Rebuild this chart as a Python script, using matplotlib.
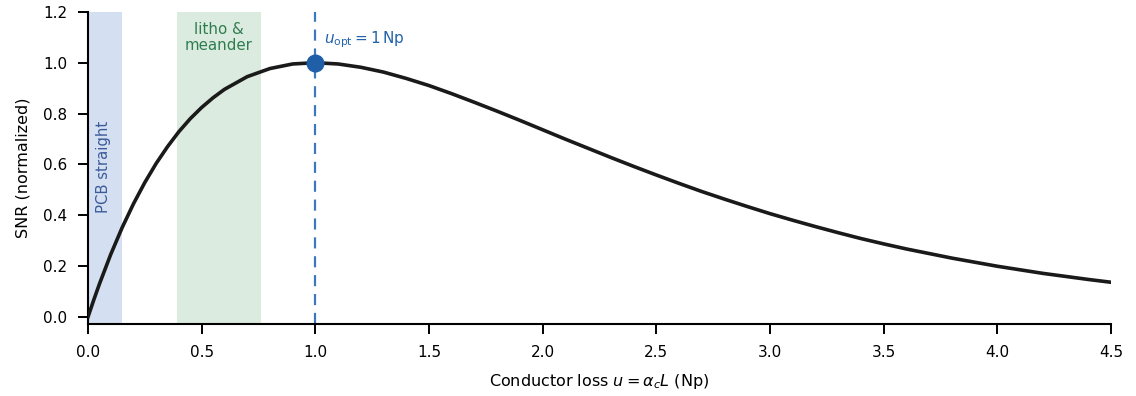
import numpy as np
import matplotlib.pyplot as plt

plt.rcParams["font.family"] = ["DejaVu Sans"]

# conductor loss u (Np) and normalized SNR
u = [0.0, 0.025, 0.05, 0.1, 0.15, 0.2, 0.25, 0.3, 0.35, 0.4, 0.45, 0.5,
     0.55, 0.6, 0.7, 0.8, 0.9, 1.0, 1.1, 1.2, 1.3, 1.4, 1.5, 1.6, 1.7, 1.8,
     1.9, 2.0, 2.1, 2.2, 2.3, 2.4, 2.5, 2.6, 2.7, 2.8, 2.9, 3.0, 3.1, 3.2,
     3.3, 3.4, 3.5, 3.6, 3.7, 3.8, 3.9, 4.0, 4.1, 4.2, 4.3, 4.4, 4.5]
snr = [0.0, 0.066, 0.129, 0.246, 0.351, 0.445, 0.529, 0.604, 0.670, 0.729,
       0.780, 0.824, 0.862, 0.895, 0.945, 0.977, 0.995, 1.0, 0.995, 0.982,
       0.963, 0.938, 0.910, 0.878, 0.844, 0.809, 0.773, 0.736, 0.699, 0.663,
       0.627, 0.592, 0.558, 0.525, 0.493, 0.463, 0.434, 0.406, 0.380, 0.355,
       0.331, 0.308, 0.287, 0.267, 0.249, 0.231, 0.215, 0.199, 0.185, 0.171,
       0.159, 0.147, 0.136]

pcb_band = (0.0, 0.15)
litho_band = (0.39, 0.76)
u_opt = 1.0

fig = plt.figure(figsize=(11.36, 3.96), dpi=100)
ax = fig.add_axes([0.0775, 0.182, 0.9005, 0.788])

ax.axvspan(*pcb_band, color="#d4e0f1", lw=0, zorder=0)
ax.axvspan(*litho_band, color="#dcebe0", lw=0, zorder=0)

ax.plot(u, snr, color="#1a1a1a", lw=2.6, zorder=3, solid_joinstyle="round")
ax.axvline(u_opt, color="#3b78c0", lw=1.6, ls=(0, (5, 3.5)), zorder=2)
ax.plot([u_opt], [1.0], "o", color="#1f5fa8", ms=12, zorder=4)

ax.text(u_opt + 0.04, 1.09, r"$u_\mathrm{opt} = 1\,\mathrm{Np}$",
        color="#2363aa", fontsize=11, va="center", ha="left")
ax.text(0.066, 0.59, "PCB straight", rotation=90, color="#3b5a99",
        fontsize=10.7, ha="center", va="center")
ax.text(0.575, 1.10, "litho &\nmeander", color="#2e7d4f", fontsize=10.8,
        ha="center", va="center", linespacing=1.05)

ax.set_xlim(0, 4.5)
ax.set_ylim(-0.028, 1.2)
ax.set_xticks(np.arange(0, 4.51, 0.5))
ax.set_yticks(np.arange(0, 1.21, 0.2))
ax.xaxis.set_major_formatter(plt.FormatStrFormatter("%.1f"))
ax.yaxis.set_major_formatter(plt.FormatStrFormatter("%.1f"))

ax.set_xlabel(r"Conductor loss $u = \alpha_c L$ (Np)", fontsize=11.5,
              labelpad=9)
ax.set_ylabel("SNR (normalized)", fontsize=11.5, labelpad=9)

for side in ["top", "right"]:
    ax.spines[side].set_visible(False)
for side in ["left", "bottom"]:
    ax.spines[side].set_linewidth(1.5)
ax.tick_params(labelsize=11, width=1.4, length=7, pad=8)

fig.savefig("out.png", dpi=100)
